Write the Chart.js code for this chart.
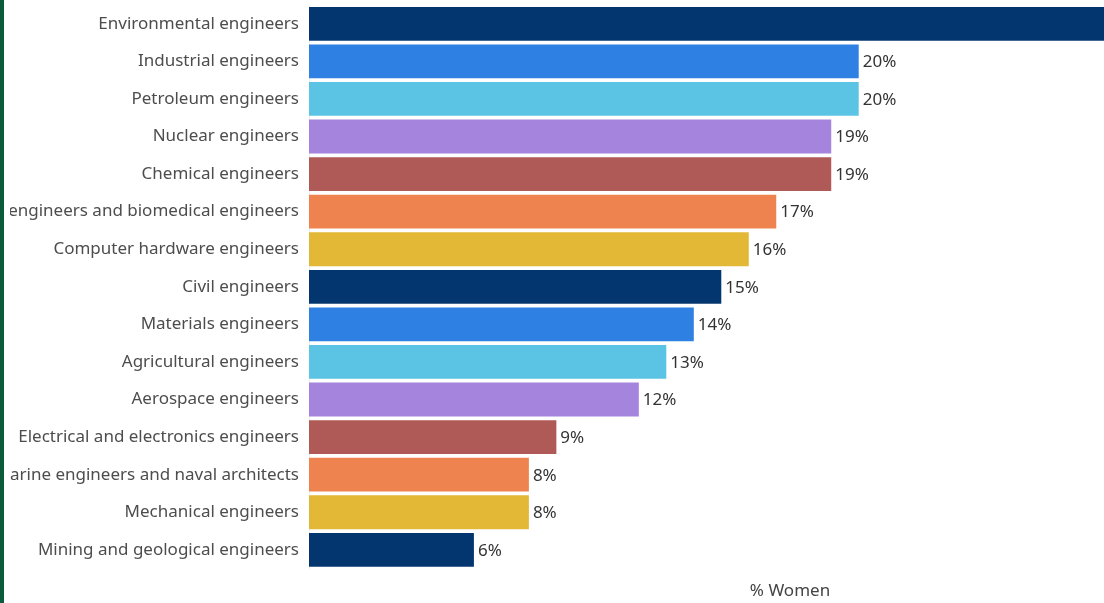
<!DOCTYPE html>
<html>
<head>
<meta charset="utf-8">
<script src="https://cdn.jsdelivr.net/npm/chart.js@4"></script>
<style>
  html, body { margin: 0; padding: 0; background: #fff; overflow: hidden; }
  body { width: 1104px; height: 603px; position: relative; }
  #edge { position: absolute; left: 0; top: 0; width: 4px; height: 603px; background: #0b5a3b; z-index: 3; }
  #gutter { position: absolute; left: 4px; top: 0; width: 6px; height: 603px; background: #fff; z-index: 2; }
  #wrap { position: absolute; left: -11px; top: 0; width: 1290px; height: 603px; }
</style>
</head>
<body>
<div id="edge"></div>
<div id="gutter"></div>
<div id="wrap"><canvas id="womenChart"></canvas></div>
<script>
let occupations = [
  'Environmental engineers',
  'Industrial engineers',
  'Petroleum engineers',
  'Nuclear engineers',
  'Chemical engineers',
  'Bioengineers and biomedical engineers',
  'Computer hardware engineers',
  'Civil engineers',
  'Materials engineers',
  'Agricultural engineers',
  'Aerospace engineers',
  'Electrical and electronics engineers',
  'Marine engineers and naval architects',
  'Mechanical engineers',
  'Mining and geological engineers',
];

let womenShare = [30, 20, 20, 19, 19, 17, 16, 15, 14, 13, 12, 9, 8, 8, 6];

let palette = ['#03366f', '#2f80e3', '#5bc4e4', '#a584de', '#b05a57', '#ef834f', '#e3b836'];

let fontFamily = "'Noto Sans', sans-serif";

// percent labels at the end of each bar
let barValueLabels = {
  id: 'barValueLabels',
  afterDatasetsDraw(chart) {
    let ctx = chart.ctx;
    let meta = chart.getDatasetMeta(0);
    ctx.save();
    ctx.font = `17px ${fontFamily}`;
    ctx.fillStyle = '#333333';
    ctx.textAlign = 'left';
    ctx.textBaseline = 'middle';
    meta.data.forEach((bar, i) => {
      ctx.fillText(`${chart.data.datasets[0].data[i]}%`, bar.x + 4, bar.y + 1);
    });
    ctx.restore();
  },
};

let ctx = document.getElementById('womenChart').getContext('2d');

new Chart(ctx, {
  type: 'bar',
  data: {
    labels: occupations,
    datasets: [
      {
        label: '% Women',
        data: womenShare,
        backgroundColor: occupations.map((o, i) => palette[i % palette.length]),
        borderWidth: 0,
        barPercentage: 0.9,
        categoryPercentage: 1,
      },
    ],
  },
  options: {
    indexAxis: 'y',
    responsive: true,
    maintainAspectRatio: false,
    animation: false,
    layout: {
      padding: { top: 5, right: 8, bottom: 0, left: 0 },
    },
    plugins: {
      legend: { display: false },
      tooltip: { enabled: false },
    },
    scales: {
      x: {
        min: 0,
        max: 35,
        grid: { display: false },
        border: { display: false },
        ticks: { display: false },
        title: {
          display: true,
          text: '% Women',
          color: '#444444',
          font: { family: fontFamily, size: 17 },
          padding: { top: 4, bottom: 2 },
        },
      },
      y: {
        grid: { display: false },
        border: { display: true, color: '#eeeeee' },
        afterFit: (scale) => {
          // fixed label column, no extra room above/below the bars
          scale.width = 320;
          scale.paddingTop = 0;
          scale.paddingBottom = 0;
        },
        ticks: {
          color: '#4d4d4d',
          padding: 2,
          font: { family: fontFamily, size: 17 },
        },
      },
    },
  },
  plugins: [barValueLabels],
});
</script>
</body>
</html>
